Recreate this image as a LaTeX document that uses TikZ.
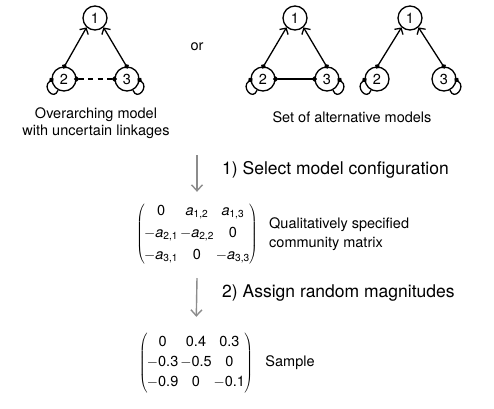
\documentclass[tikz,border=0pt]{standalone}
\usepackage{fontspec}
\setmainfont{TeX Gyre Heros}
\usetikzlibrary{arrows.meta,positioning,matrix}
\newcommand{\ent}[1]{\textit{a}\textsubscript{#1}}
\tikzset{%
  >={Straight Barb[length=4.5pt,width=10pt]},
  % Specifications for style of nodes:
        species/.style = {circle, draw=black, line width=1.3pt,
                          minimum size=24pt, inner sep=0pt,
                          font=\fontsize{14.5}{17}\selectfont},
        caption/.style = {align=center, font=\fontsize{14.5}{17.5}\selectfont},
       sideText/.style = {align=left, inner sep=0pt,
                          font=\fontsize{14.5}{18.5}\selectfont},
       stepText/.style = {anchor=west, inner sep=0pt,
                          font=\fontsize{17.5}{21}\selectfont},
        commMat/.style = {matrix of nodes, left delimiter=(, right delimiter=),
                          inner sep=2pt, column sep=0pt,
                          nodes={inner sep=1pt, text height=10.5pt, text depth=3.5pt,
                                 font=\fontsize{14.5}{17}\selectfont}},
  every left delimiter/.style = {xshift=5pt},
 every right delimiter/.style = {xshift=-5pt},
  % Specifications for style of links:
           link/.style = {line width=1.3pt},
         posNeg/.style = {link, {Circle[length=5pt]}->, shorten <=-2.5pt},
         negNeg/.style = {link, {Circle[length=5pt]}-{Circle[length=5pt]},
                          shorten <=-2.5pt, shorten >=-2.5pt},
        selfNeg/.style = {link, {Circle[length=5pt]}-, shorten <=-2.5pt},
      stepArrow/.style = {-{Straight Barb[length=6pt,width=11pt]},
                          draw=black!45, line width=1.4pt},
}

\begin{document}
\begin{tikzpicture}[x=1pt, y=1pt, node distance=61pt]
  \useasboundingbox (0,0) rectangle (494,-408);
  % Overarching model
  \node (oneL) [species] at (95,-18) {1};
  \node (twoL) [species, below of=oneL, xshift=-31pt] {2};
  \node (threeL) [species, below of=oneL, xshift=32pt] {3};
  % Alternative models
  \node (oneA) [species] at (295,-18) {1};
  \node (twoA) [species, below of=oneA, xshift=-32pt] {2};
  \node (threeA) [species, below of=oneA, xshift=32pt] {3};
  \node (oneB) [species] at (410,-18) {1};
  \node (twoB) [species, below of=oneB, xshift=-33pt] {2};
  \node (threeB) [species, below of=oneB, xshift=34pt] {3};
  % Captions
  \node (orText) [caption] at (197,-47) {or};
  \node (capL) [caption] at (96,-123) {Overarching model\\with uncertain linkages};
  \node (capR) [caption] at (352,-117) {Set of alternative models};
  % Steps and matrices
  \matrix (cmat) [commMat, row sep=6pt] at (197,-234) {
    0 & \ent{1,2} & \ent{1,3} \\
    $-$\ent{2,1} & $-$\ent{2,2} & 0 \\
    $-$\ent{3,1} & 0 & $-$\ent{3,3} \\
  };
  \node (cmatText) [sideText, right=16pt of cmat] {Qualitatively specified\\community matrix};
  \matrix (smat) [commMat, row sep=4pt] at (196,-363) {
    0 & 0.4 & 0.3 \\
    $-$0.3 & $-$0.5 & 0 \\
    $-$0.9 & 0 & $-$0.1 \\
  };
  \node (smatText) [sideText, right=17pt of smat] {Sample};
  \node (selText) [stepText] at (222,-170) {1) Select model configuration};
  \node (asgText) [stepText] at (222,-293) {2) Assign random magnitudes};
  \coordinate (selTop) at (197,-155);
  \coordinate (asgTop) at (197,-278);
  % Links of the networks
  \draw[posNeg] (twoL.88) -- (oneL.228);
  \draw[posNeg] (threeL.92) -- (oneL.-48);
  \draw[negNeg, dash pattern=on 5pt off 4.5pt] (twoL) -- (threeL);
  \draw[selfNeg] (twoL.185) .. controls +(215:12) and +(250:12) .. (twoL.242);
  \draw[selfNeg] (threeL.-5) .. controls +(-35:12) and +(-70:12) .. (threeL.-62);
  \draw[posNeg] (twoA.88) -- (oneA.228);
  \draw[posNeg] (threeA.92) -- (oneA.-48);
  \draw[negNeg] (twoA) -- (threeA);
  \draw[selfNeg] (twoA.185) .. controls +(215:12) and +(250:12) .. (twoA.242);
  \draw[selfNeg] (threeA.-5) .. controls +(-35:12) and +(-70:12) .. (threeA.-62);
  \draw[posNeg] (twoB.88) -- (oneB.228);
  \draw[posNeg] (threeB.92) -- (oneB.-48);
  \draw[selfNeg] (twoB.185) .. controls +(215:12) and +(250:12) .. (twoB.242);
  \draw[selfNeg] (threeB.-5) .. controls +(-35:12) and +(-70:12) .. (threeB.-62);
  % Step arrows
  \draw[stepArrow, shorten >=10pt] (selTop) -- (cmat.north);
  \draw[stepArrow, shorten >=16pt] (asgTop) -- (smat.north);
\end{tikzpicture}
\end{document}
